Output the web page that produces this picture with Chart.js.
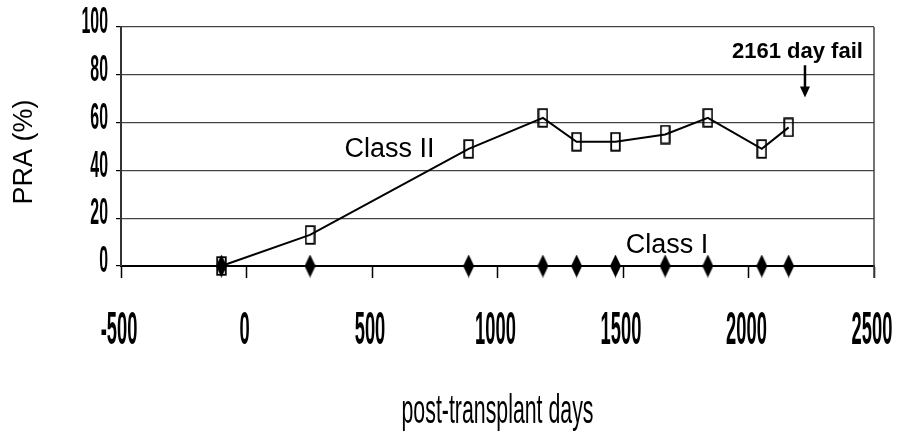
<!DOCTYPE html>
<html>
<head>
<meta charset="utf-8">
<script src="https://cdn.jsdelivr.net/npm/chart.js@4/dist/chart.umd.min.js"></script>
<style>
  html, body { margin: 0; padding: 0; background: #fff; }
  canvas { display: block; }
</style>
</head>
<body>
<canvas id="chart" width="901" height="440"></canvas>
<script>
// ── Datos ────────────────────────────────────────────────────
const days = [-100, 253, 885, 1181, 1315, 1470, 1668, 1838, 2053, 2160];
const classII = [0, 13, 49, 62, 52, 52, 55, 62, 49, 58];
const classI = [0, 0, 0, 0, 0, 0, 0, 0, 0, 0];
const xTicks = [-500, 0, 500, 1000, 1500, 2000, 2500];
const yTicks = [0, 20, 40, 60, 80, 100];

const FONT = "'Liberation Sans', Arial, sans-serif";

// ── Marcadores ───────────────────────────────────────────────
function makeRect() {
    const c = document.createElement("canvas");
    c.width = 11; c.height = 20;
    const g = c.getContext("2d");
    g.strokeStyle = "#000";
    g.lineWidth = 1.8;
    g.strokeRect(1.2, 1.2, 8.6, 17.6);
    return c;
}

function makeDiamond() {
    const c = document.createElement("canvas");
    c.width = 11; c.height = 23;
    const g = c.getContext("2d");
    g.fillStyle = "#000";
    g.beginPath();
    g.moveTo(5.5, 0);
    g.lineTo(11, 11.5);
    g.lineTo(5.5, 23);
    g.lineTo(0, 11.5);
    g.closePath();
    g.fill();
    return c;
}

// texto estrecho (las etiquetas del original son muy condensadas)
function narrowText(ctx, text, x, y, font, sx, align) {
    ctx.save();
    ctx.translate(x, y);
    ctx.scale(sx, 1);
    ctx.font = font;
    ctx.textAlign = align;
    ctx.textBaseline = "middle";
    ctx.fillStyle = "#000";
    ctx.fillText(text, 0, 0);
    ctx.restore();
}

// ── Etiquetas y anotaciones ──────────────────────────────────
const labelsPlugin = {
    id: "labels",
    afterDraw(chart) {
        const ctx = chart.ctx;
        const xs = chart.scales.x;
        const ys = chart.scales.y;
        const area = chart.chartArea;

        // borde derecho
        ctx.save();
        ctx.strokeStyle = "#444";
        ctx.lineWidth = 1.5;
        ctx.beginPath();
        ctx.moveTo(area.right, area.top);
        ctx.lineTo(area.right, area.bottom + 12);
        ctx.stroke();
        ctx.restore();

        yTicks.forEach(v => narrowText(ctx, String(v), 108, ys.getPixelForValue(v) - 4, "bold 37px " + FONT, 0.43, "right"));
        xTicks.forEach(v => narrowText(ctx, String(v), xs.getPixelForValue(v) - 2, 331, "bold 47px " + FONT, 0.39, "center"));

        narrowText(ctx, "post-transplant days", (area.left + area.right) / 2, 412, "41px " + FONT, 0.52, "center");

        // eje Y
        ctx.save();
        ctx.translate(25, 152);
        ctx.rotate(-Math.PI / 2);
        ctx.font = "27px " + FONT;
        ctx.textAlign = "center";
        ctx.textBaseline = "middle";
        ctx.fillStyle = "#000";
        ctx.fillText("PRA (%)", 0, 0);
        ctx.restore();

        ctx.save();
        ctx.fillStyle = "#000";
        ctx.font = "27px " + FONT;
        ctx.textAlign = "center";
        ctx.textBaseline = "alphabetic";
        ctx.fillText("Class II", xs.getPixelForValue(570), ys.getPixelForValue(45.5));
        ctx.fillText("Class I", xs.getPixelForValue(1675), ys.getPixelForValue(5.5));

        ctx.font = "bold 22px " + FONT;
        ctx.fillText("2161 day fail", xs.getPixelForValue(2195), ys.getPixelForValue(87));

        // flecha
        const ax = xs.getPixelForValue(2225);
        const top = ys.getPixelForValue(84);
        const tip = ys.getPixelForValue(70.5);
        ctx.strokeStyle = "#000";
        ctx.lineWidth = 2.5;
        ctx.beginPath();
        ctx.moveTo(ax, top);
        ctx.lineTo(ax, tip - 8);
        ctx.stroke();
        ctx.beginPath();
        ctx.moveTo(ax - 5, tip - 11);
        ctx.lineTo(ax + 5, tip - 11);
        ctx.lineTo(ax, tip);
        ctx.closePath();
        ctx.fill();
        ctx.restore();
    }
};

// ── Gráfica ──────────────────────────────────────────────────
const rectStyle = makeRect();
const diamondStyle = makeDiamond();

new Chart(document.getElementById("chart"), {
    type: "line",
    data: {
        datasets: [
            {
                label: "Class I",
                data: days.map((d, i) => ({ x: d, y: classI[i] })),
                borderColor: "#000",
                borderWidth: 2.2,
                pointStyle: diamondStyle,
                clip: false,
                tension: 0
            },
            {
                label: "Class II",
                data: days.map((d, i) => ({ x: d, y: classII[i] })),
                borderColor: "#000",
                borderWidth: 2,
                pointStyle: rectStyle,
                clip: false,
                tension: 0
            }
        ]
    },
    options: {
        responsive: false,
        animation: false,
        devicePixelRatio: 1,
        layout: { padding: { left: 116, right: 27, top: 27, bottom: 162 } },
        plugins: { legend: { display: false }, tooltip: { enabled: false } },
        scales: {
            x: {
                type: "linear",
                min: -500,
                max: 2500,
                ticks: { stepSize: 500, display: false },
                grid: { drawOnChartArea: false, drawTicks: true, tickLength: 12, tickColor: "#000", tickWidth: 1.5 },
                border: { color: "#000", width: 2 }
            },
            y: {
                min: 0,
                max: 100,
                ticks: { stepSize: 20, display: false },
                grid: { color: "#444", lineWidth: 1.2, drawTicks: true, tickLength: 5, tickColor: "#000" },
                border: { color: "#333", width: 2 }
            }
        }
    },
    plugins: [labelsPlugin]
});
</script>
</body>
</html>
